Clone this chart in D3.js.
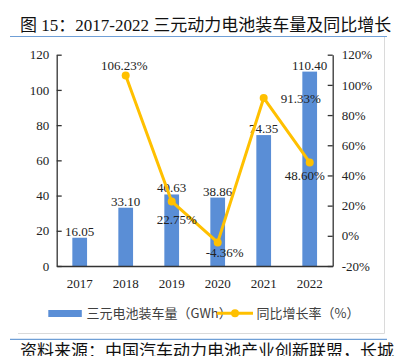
<!DOCTYPE html>
<html>
<head>
<meta charset="utf-8">
<script src="https://cdn.jsdelivr.net/npm/d3@7/dist/d3.min.js"></script>
<style>
html,body{margin:0;padding:0;background:#fff;}
svg{display:block;}
</style>
</head>
<body>
<svg id="c" width="396" height="356"></svg>
<script>
const years = ["2017","2018","2019","2020","2021","2022"];
const installs = [16.05, 33.10, 40.63, 38.86, 74.35, 110.40];
const growth = [null, 106.23, 22.75, -4.36, 91.33, 48.60];
const leftTicks = [0, 20, 40, 60, 80, 100, 120];
const rightTicks = [-20, 0, 20, 40, 60, 80, 100, 120];
const titleText = "图 15：2017-2022 三元动力电池装车量及同比增长";
const sourceText = "资料来源：中国汽车动力电池产业创新联盟，长城";
const legendBar = "三元电池装车量（GWh）";
const legendLine = "同比增长率（%）";
// label placement for growth labels (offset relative to point)
const growthLabelOffset = [null, [-1.5,-5.5,"middle"], [5,23,"middle"], [7,15,"middle"], [17,5.5,"start"], [-5,17.5,"middle"]];

const serif = "'Liberation Serif','Times New Roman',serif";
const cjk = "'Noto Sans CJK SC','Noto Sans',sans-serif";
const barColor = "#5a8ed6";
const lineColor = "#ffc000";
const axisColor = "#333";

const svg = d3.select("#c");

// title
svg.append("text").attr("x",20).attr("y",30.5)
  .attr("font-family", serif + "," + cjk).attr("font-size",17).attr("fill","#111")
  .text(titleText);
svg.append("line").attr("x1",10).attr("x2",387).attr("y1",36.5).attr("y2",36.5)
  .attr("stroke","#6f9fd6").attr("stroke-width",1.2);

// chart frame
svg.append("path").attr("d","M18,333.5H384.5V37").attr("fill","none")
  .attr("stroke","#dadada").attr("stroke-width",1);

// bottom rule and source
svg.append("line").attr("x1",10).attr("x2",387).attr("y1",339.3).attr("y2",339.3)
  .attr("stroke","#6f9fd6").attr("stroke-width",1.2);
svg.append("text").attr("x",20).attr("y",356.5)
  .attr("font-family", cjk).attr("font-size",17).attr("fill","#111")
  .text(sourceText);

const x0 = 56.7, x1 = 332.7, yTop = 54.7, yBot = 266;
const x = d3.scaleBand().domain(years).range([x0,x1]).paddingInner(0.68).paddingOuter(0.34);
const yL = d3.scaleLinear().domain([0,120]).range([yBot,yTop]);
const yR = d3.scaleLinear().domain([-20,120]).range([yBot,yTop]);
const cx = d => x(d) + x.bandwidth()/2;

// bars
svg.append("g").selectAll("rect").data(years).join("rect")
  .attr("x", d => x(d)).attr("width", x.bandwidth())
  .attr("y", (d,i) => yL(installs[i])).attr("height", (d,i) => yBot - yL(installs[i]))
  .attr("fill", barColor);

// axes
const gL = svg.append("g").attr("transform",`translate(${x0},0)`)
  .call(d3.axisLeft(yL).tickValues(leftTicks).tickSizeInner(-5).tickSizeOuter(0).tickPadding(7.5));
const gR = svg.append("g").attr("transform",`translate(${x1},0)`)
  .call(d3.axisRight(yR).tickValues(rightTicks).tickSizeInner(-5).tickSizeOuter(0).tickPadding(9).tickFormat(d => d + "%"));
const gB = svg.append("g").attr("transform",`translate(0,${yBot})`)
  .call(d3.axisBottom(x).tickSize(0).tickPadding(0));
gB.selectAll("text").attr("dy",0).attr("y",22);
[gL,gR,gB].forEach(g => {
  g.selectAll("path.domain").attr("stroke",axisColor).attr("stroke-width",1.3);
  g.selectAll(".tick line").attr("stroke",axisColor).attr("stroke-width",1.3);
  g.selectAll("text").attr("font-family",serif).attr("font-size",13).attr("fill","#222");
});

// bar labels
svg.append("g").selectAll("text").data(years).join("text")
  .attr("x", d => cx(d)).attr("y", (d,i) => yL(installs[i]) - 2)
  .attr("text-anchor","middle").attr("font-family",serif).attr("font-size",13).attr("fill","#222")
  .text((d,i) => installs[i].toFixed(2));

// growth line
const pts = years.map((d,i) => ({d, v: growth[i], i})).filter(p => p.v !== null);
svg.append("path").datum(pts)
  .attr("d", d3.line().x(p => cx(p.d)).y(p => yR(p.v)))
  .attr("fill","none").attr("stroke",lineColor).attr("stroke-width",3).attr("stroke-linejoin","round");
svg.append("g").selectAll("circle").data(pts).join("circle")
  .attr("cx", p => cx(p.d)).attr("cy", p => yR(p.v)).attr("r",4).attr("fill",lineColor);
svg.append("g").selectAll("text").data(pts).join("text")
  .attr("x", p => cx(p.d) + growthLabelOffset[p.i][0])
  .attr("y", p => yR(p.v) + growthLabelOffset[p.i][1])
  .attr("text-anchor", p => growthLabelOffset[p.i][2])
  .attr("font-family",serif).attr("font-size",13).attr("fill","#222")
  .text(p => p.v.toFixed(2) + "%");

// legend
const lg = svg.append("g");
lg.append("rect").attr("x",48.3).attr("y",310).attr("width",33.5).attr("height",7).attr("fill",barColor);
lg.append("text").attr("x",86.5).attr("y",318).attr("font-family",cjk).attr("font-size",13).attr("fill","#404040").text(legendBar);
lg.append("line").attr("x1",217).attr("x2",253).attr("y1",313.3).attr("y2",313.3).attr("stroke",lineColor).attr("stroke-width",3);
lg.append("circle").attr("cx",235).attr("cy",313.3).attr("r",4).attr("fill",lineColor);
lg.append("text").attr("x",256.5).attr("y",318).attr("font-family",cjk).attr("font-size",13).attr("fill","#404040").text(legendLine);
</script>
</body>
</html>
